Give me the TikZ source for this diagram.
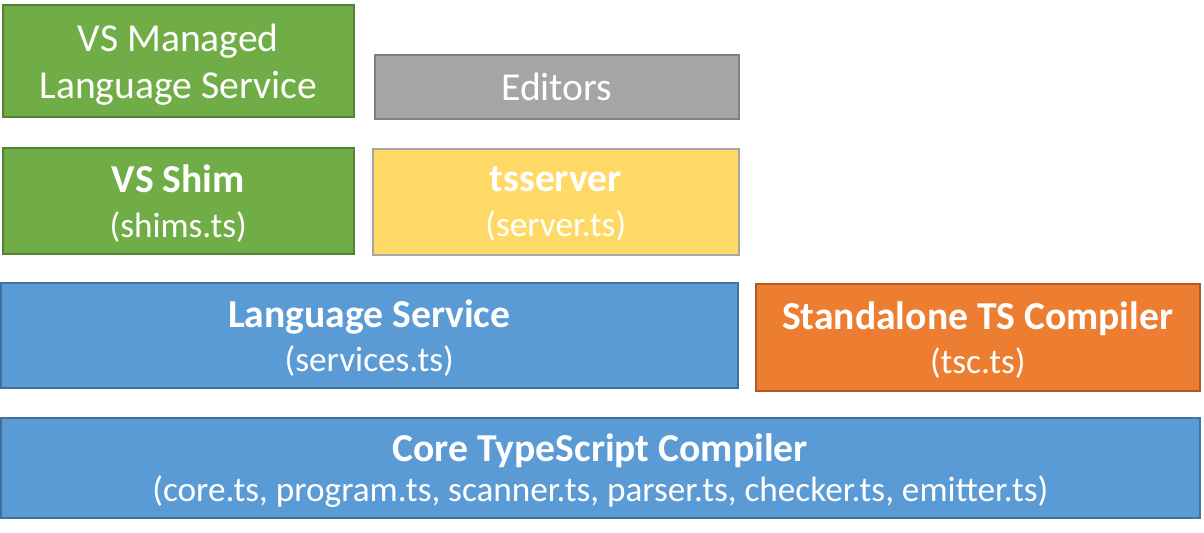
\documentclass[tikz,border=0pt]{standalone}
\usepackage{fontspec}
\setmainfont{Carlito}
\definecolor{LayerGreen}{HTML}{70AD47}
\definecolor{LayerGreenEdge}{HTML}{548235}
\definecolor{LayerGray}{HTML}{A5A5A5}
\definecolor{LayerGrayEdge}{HTML}{7F7F7F}
\definecolor{LayerYellow}{HTML}{FFD966}
\definecolor{LayerYellowEdge}{HTML}{A6A6A6}
\definecolor{LayerBlue}{HTML}{5B9BD5}
\definecolor{LayerBlueEdge}{HTML}{41719C}
\definecolor{LayerOrange}{HTML}{ED7D31}
\definecolor{LayerOrangeEdge}{HTML}{AE5A21}
\newcommand{\filenote}[1]{{\fontsize{17.6}{22}\selectfont #1}}

\begin{document}
\begin{tikzpicture}[x=0.5pt,y=-0.5pt,
  layer/.style={rectangle,draw=#1Edge,fill=#1,line width=0.75pt,text=white,
    align=center,inner sep=0pt,anchor=north west,
    font=\fontsize{19.8}{23.5}\selectfont},
  twoline/.style={text depth=0pt}]
\useasboundingbox (0,0) rectangle (1204,532);

\node[layer=LayerGreen,twoline,minimum width=175.5pt,minimum height=56pt] (vsmanaged) at (2,4) {VS Managed\\Language Service};
\node[layer=LayerGray,minimum width=182pt,minimum height=32pt] (editors) at (374,54) {Editors};

\node[layer=LayerGreen,twoline,minimum width=175.5pt,minimum height=53pt] (vsshim) at (2,147) {\textbf{VS Shim}\\[-1pt]\filenote{(shims.ts)}};
\node[layer=LayerYellow,twoline,minimum width=183pt,minimum height=53pt] (tsserver) at (372,148) {\textbf{tsserver}\\[-1pt]\filenote{(server.ts)}};

\node[layer=LayerBlue,twoline,minimum width=368.5pt,minimum height=52.5pt] (langsvc) at (0,282) {\textbf{Language Service}\\[-1.5pt]\filenote{(services.ts)}};
\node[layer=LayerOrange,twoline,minimum width=222pt,minimum height=53.5pt] (tsc) at (755,283) {\textbf{Standalone TS Compiler}\\[-1.5pt]\filenote{(tsc.ts)}};

\node[layer=LayerBlue,twoline,minimum width=599.5pt,minimum height=50pt] (core) at (0,417) {\textbf{Core TypeScript Compiler}\\[-3.5pt]\filenote{(core.ts, program.ts, scanner.ts, parser.ts, checker.ts, emitter.ts)}};
\end{tikzpicture}
\end{document}
